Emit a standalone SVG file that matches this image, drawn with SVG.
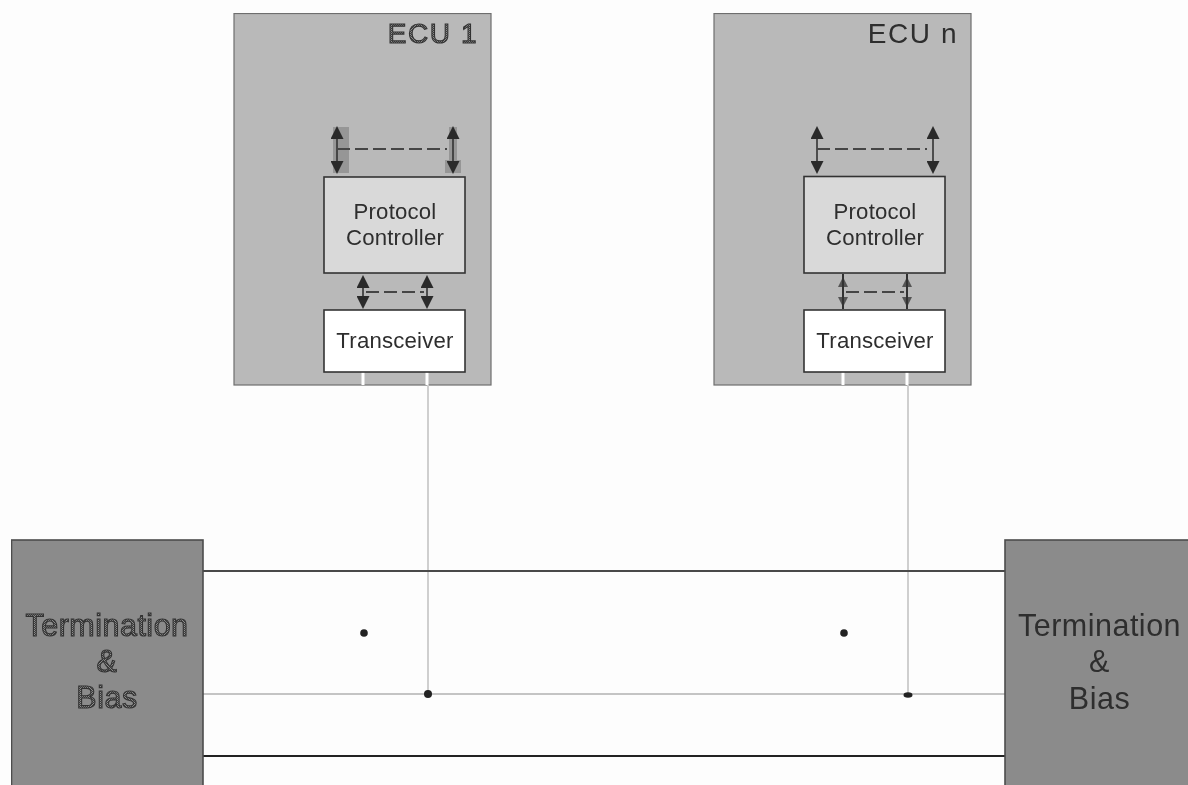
<svg xmlns="http://www.w3.org/2000/svg" width="1188" height="785" viewBox="0 0 1188 785">
<style>
text{font-family:"Liberation Sans",Arial,sans-serif;fill:#2e2e2e;text-anchor:middle}
.ecu{fill:#b9b9b9;stroke:#6e6e6e;stroke-width:1.2}
.pc{fill:#d9d9d9;stroke:#333;stroke-width:1.6}
.tr{fill:#fff;stroke:#333;stroke-width:1.6}
.term{fill:#8b8b8b;stroke:#4d4d4d;stroke-width:1.6}
.big{font-size:30.5px;letter-spacing:.5px}
.mid{font-size:28px;letter-spacing:1.6px}
.sm{font-size:22.2px;letter-spacing:.2px}
text.halftone{fill:url(#ht);stroke:#333;stroke-width:1.1}
.arr{stroke:#333;stroke-width:1.6;fill:none;marker-start:url(#ah);marker-end:url(#ah)}
.arrs{stroke:#333;stroke-width:1.6;fill:none;marker-start:url(#as);marker-end:url(#as)}
.dash{stroke:#444;stroke-width:1.8;fill:none;stroke-dasharray:13 5}
.bus{fill:none;stroke-width:2}
.dot{fill:#222}
.shade{fill:#969696}
</style>
<defs>
<pattern id="ht" width="2" height="2" patternUnits="userSpaceOnUse"><rect width="2" height="2" fill="#3d3d3d"/><rect width="1" height="1" fill="#8f8f8f"/><rect x="1" y="1" width="1" height="1" fill="#8f8f8f"/></pattern>
<marker id="ah" markerUnits="userSpaceOnUse" markerWidth="15" markerHeight="13" refX="1" refY="6.500" orient="auto-start-reverse"><path d="M13 6.500L0 0V13Z" fill="#2b2b2b"/></marker>
<marker id="as" markerUnits="userSpaceOnUse" markerWidth="12" markerHeight="10" refX="1" refY="5" orient="auto-start-reverse"><path d="M10 5L0 0V10Z" fill="#555"/></marker>
<filter id="soft" x="0" y="0" width="100%" height="100%"><feGaussianBlur stdDeviation="0.45"/></filter>
</defs>
<rect width="1188" height="785" fill="#fdfdfd"/>
<g filter="url(#soft)">
<g id="ecu1">
<rect class="ecu" x="234" y="13.500" width="257" height="371.500"/>
<rect class="shade" x="333" y="127" width="16" height="46"/>
<rect class="shade" x="445" y="160" width="16" height="13"/>
<rect class="shade" x="449" y="127" width="8" height="33"/>
<text class="mid halftone" x="433" y="43">ECU 1</text>
</g>
<g id="ecun">
<rect class="ecu" x="714" y="13.500" width="257" height="371.500"/>
<text class="mid" x="913" y="43">ECU n</text>
</g>
<g id="connectors">
<path class="arr" d="M337 138V162"/>
<path class="arr" d="M453 138V162"/>
<path class="dash" d="M337 149H447"/>
<path class="arr" d="M363 287V297"/>
<path class="arr" d="M427 287V297"/>
<path class="dash" d="M366 292H424"/>
<path class="arr" d="M817 138V162"/>
<path class="arr" d="M933 138V162"/>
<path class="dash" d="M817 149H927"/>
<path class="arrs" d="M843 286V298"/>
<path class="arrs" d="M907 286V298"/>
<path d="M843 274V309M907 274V309" stroke="#333" stroke-width="2" fill="none"/>
<path class="dash" d="M846 292H904"/>
<path d="M363 372V385M427 372V385M843 372V385M907 372V385" stroke="#fff" stroke-width="3" fill="none"/>
<path d="M428 385V694M908 385V694" stroke="#cfcfcf" stroke-width="2" fill="none"/>
<path class="bus" d="M203 571H1005" stroke="#4a4a4a"/>
<path class="bus" d="M203 694H1005" stroke="#c4c4c4"/>
<path class="bus" d="M203 756H1005" stroke="#222"/>
</g>
<g id="pc1">
<rect class="pc" x="324" y="177" width="141" height="96"/>
<text class="sm" x="395" y="219">Protocol</text>
<text class="sm" x="395" y="245">Controller</text>
</g>
<g id="tr1">
<rect class="tr" x="324" y="310" width="141" height="62"/>
<text class="sm" x="395" y="348">Transceiver</text>
</g>
<g id="pcn">
<rect class="pc" x="804" y="176.500" width="141" height="96.500"/>
<text class="sm" x="875" y="219">Protocol</text>
<text class="sm" x="875" y="245">Controller</text>
</g>
<g id="trn">
<rect class="tr" x="804" y="310" width="141" height="62"/>
<text class="sm" x="875" y="348">Transceiver</text>
</g>
<g id="term1">
<rect class="term" x="11.500" y="540" width="191.500" height="250"/>
<text class="big halftone" x="107" y="636">Termination</text>
<text class="big halftone" x="107" y="672">&amp;</text>
<text class="big halftone" x="107" y="708">Bias</text>
</g>
<g id="termn">
<rect class="term" x="1005" y="540" width="190" height="250"/>
<text class="big" x="1099.500" y="636">Termination</text>
<text class="big" x="1099.500" y="672">&amp;</text>
<text class="big" x="1099.500" y="709">Bias</text>
</g>
<g id="dots">
<circle class="dot" cx="364" cy="633" r="3.800"/>
<circle class="dot" cx="844" cy="633" r="3.800"/>
<circle class="dot" cx="428" cy="694" r="4"/>
<ellipse class="dot" cx="908" cy="695" rx="4.500" ry="2.800"/>
</g>
</g>
</svg>
